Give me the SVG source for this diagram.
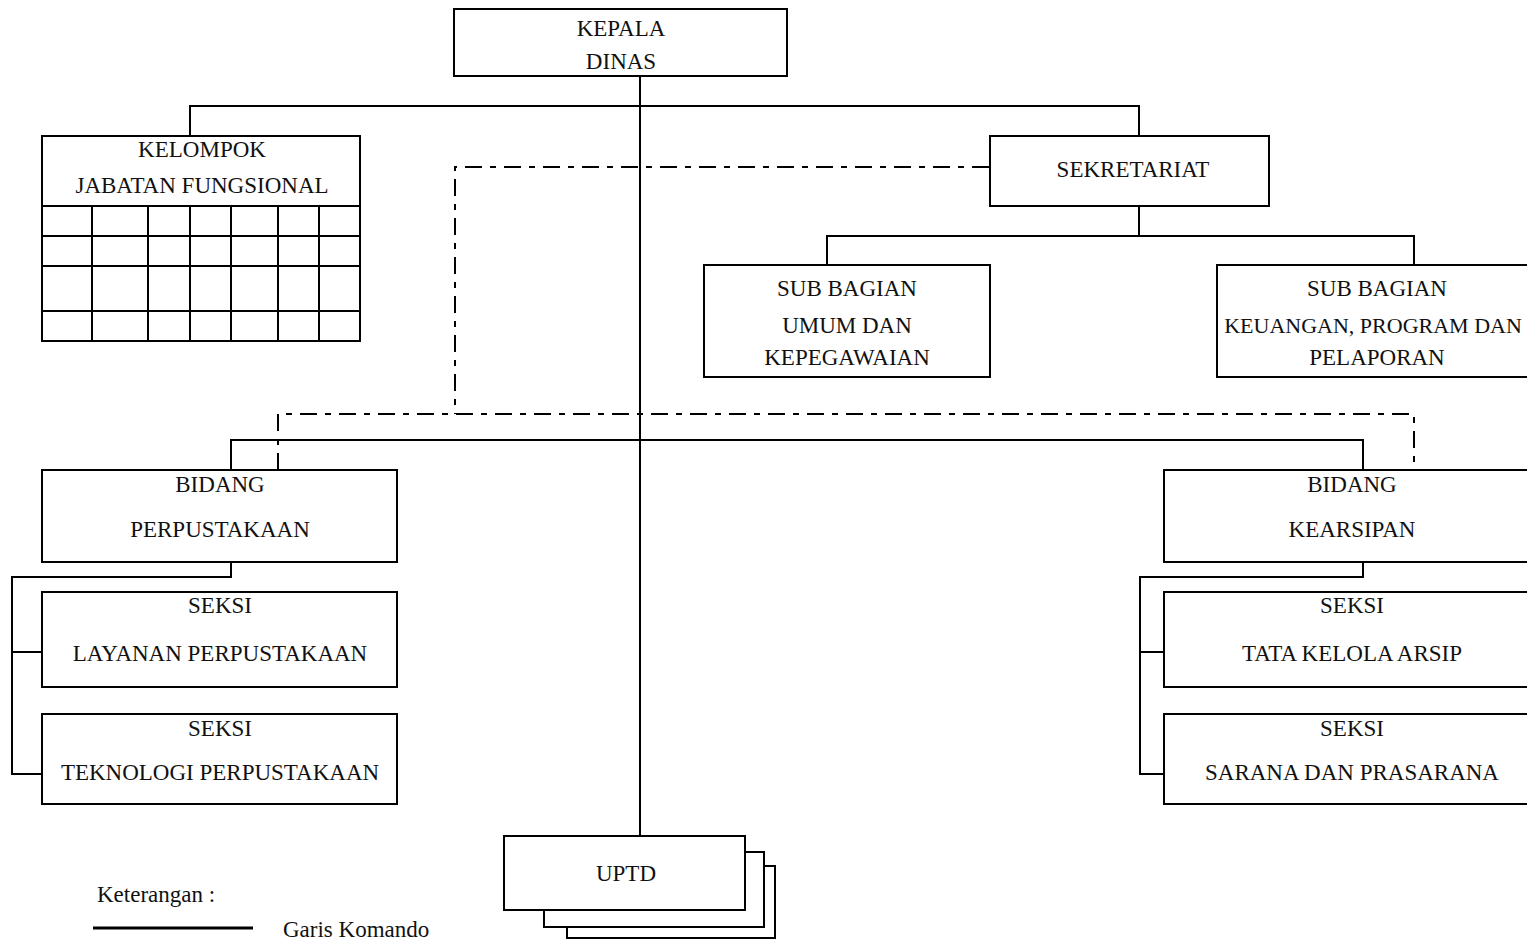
<svg xmlns="http://www.w3.org/2000/svg" width="1527" height="940" viewBox="0 0 1527 940">
<style>
.box{fill:#fff;stroke:#000;stroke-width:2}
.ln{fill:none;stroke:#000;stroke-width:2}
.dash{fill:none;stroke:#000;stroke-width:2;stroke-dasharray:17 8 6 8}
text{font-family:"Liberation Serif","Times New Roman",serif;font-size:23px;fill:#111}
.c{text-anchor:middle}
</style>
<rect width="1527" height="940" fill="#fff"/>
<g id="connectors">
<path class="ln" d="M640,76 V836"/>
<path class="ln" d="M190,136 V106 H1139 V136"/>
<path class="ln" d="M1139,206 V236 M827,265 V236 H1414 V265"/>
<path class="ln" d="M231,470 V440 H1363 V470"/>
<path class="ln" d="M231,562 V577 H12 V774 H42 M12,652 H42"/>
<path class="ln" d="M1363,562 V577 H1140 V774 H1164 M1140,652 H1164"/>
<path class="dash" d="M989,167 H455 V414"/>
<path class="dash" d="M278,470 V414 H1414 V470"/>
</g>
<g id="kepala">
<rect class="box" x="454" y="9" width="333" height="67"/>
<text class="c" x="621" y="36">KEPALA</text>
<text class="c" x="621" y="69">DINAS</text>
</g>
<g id="kelompok">
<rect class="box" x="42" y="136" width="318" height="205"/>
<path class="ln" d="M42,206 H360 M42,236 H360 M42,266 H360 M42,311 H360 M92,206 V341 M148,206 V341 M190,206 V341 M231,206 V341 M278,206 V341 M319,206 V341"/>
<text class="c" x="202" y="157">KELOMPOK</text>
<text class="c" x="202" y="193">JABATAN FUNGSIONAL</text>
</g>
<g id="sekretariat">
<rect class="box" x="990" y="136" width="279" height="70"/>
<text class="c" x="1133" y="177">SEKRETARIAT</text>
</g>
<g id="subbag-umum">
<rect class="box" x="704" y="265" width="286" height="112"/>
<text class="c" x="847" y="296">SUB BAGIAN</text>
<text class="c" x="847" y="333">UMUM DAN</text>
<text class="c" x="847" y="365">KEPEGAWAIAN</text>
</g>
<g id="subbag-keuangan">
<rect class="box" x="1217" y="265" width="322" height="112"/>
<text class="c" x="1377" y="296">SUB BAGIAN</text>
<text class="c" x="1373" y="333" style="font-size:22px">KEUANGAN, PROGRAM DAN</text>
<text class="c" x="1377" y="365">PELAPORAN</text>
</g>
<g id="bidang-perpustakaan">
<rect class="box" x="42" y="470" width="355" height="92"/>
<text class="c" x="220" y="492">BIDANG</text>
<text class="c" x="220" y="537">PERPUSTAKAAN</text>
</g>
<g id="seksi-layanan">
<rect class="box" x="42" y="592" width="355" height="95"/>
<text class="c" x="220" y="613">SEKSI</text>
<text class="c" x="220" y="661">LAYANAN PERPUSTAKAAN</text>
</g>
<g id="seksi-teknologi">
<rect class="box" x="42" y="714" width="355" height="90"/>
<text class="c" x="220" y="736">SEKSI</text>
<text class="c" x="220" y="780">TEKNOLOGI PERPUSTAKAAN</text>
</g>
<g id="bidang-kearsipan">
<rect class="box" x="1164" y="470" width="376" height="92"/>
<text class="c" x="1352" y="492">BIDANG</text>
<text class="c" x="1352" y="537">KEARSIPAN</text>
</g>
<g id="seksi-tata-kelola">
<rect class="box" x="1164" y="592" width="376" height="95"/>
<text class="c" x="1352" y="613">SEKSI</text>
<text class="c" x="1352" y="661">TATA KELOLA ARSIP</text>
</g>
<g id="seksi-sarana">
<rect class="box" x="1164" y="714" width="376" height="90"/>
<text class="c" x="1352" y="736">SEKSI</text>
<text class="c" x="1352" y="780">SARANA DAN PRASARANA</text>
</g>
<g id="uptd">
<path class="ln" d="M764,866 H775 V938 H567 V927"/>
<path class="ln" d="M745,852 H764 V927 H544 V910"/>
<rect class="box" x="504" y="836" width="241" height="74"/>
<text class="c" x="626" y="881">UPTD</text>
</g>
<g id="legend">
<text x="97" y="902">Keterangan :</text>
<line x1="93" y1="928" x2="253" y2="928" stroke="#000" stroke-width="3"/>
<text x="283" y="937">Garis Komando</text>
</g>
</svg>
